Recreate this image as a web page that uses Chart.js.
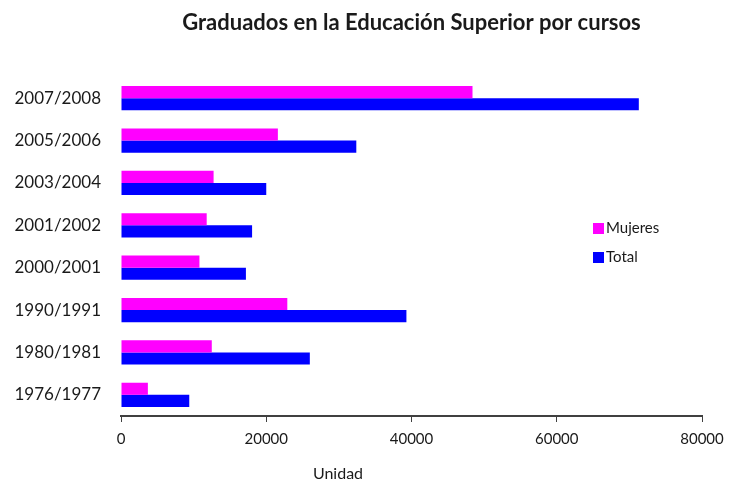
<!DOCTYPE html>
<html lang="es">
<head>
<meta charset="UTF-8">
<title>Graduados en la Educación Superior por cursos</title>
<script src="https://cdn.jsdelivr.net/npm/chart.js@4.4.0/dist/chart.umd.min.js"></script>
<style>
    body { margin: 0; background: #fff; }
</style>
</head>
<body>
<canvas id="myChart" width="729" height="481"></canvas>
<script>
    // datos (de arriba abajo)
    var cursos = ['2007/2008', '2005/2006', '2003/2004', '2001/2002', '2000/2001', '1990/1991', '1980/1981', '1976/1977'];
    var mujeres = [48400, 21600, 12750, 11800, 10800, 22900, 12500, 3700];
    var total = [71300, 32400, 20000, 18050, 17200, 39300, 26000, 9400];
    var ticksX = [0, 20000, 40000, 60000, 80000];
    var titulo = 'Graduados en la Educación Superior por cursos';

    var fuente = "Lato, 'Open Sans', sans-serif";

    // título centrado sobre el área, leyenda dentro del área y título del eje "Unidad"
    var extras = {
        id: 'extras',
        afterDraw: function (chart) {
            var ctx = chart.ctx;
            var area = chart.chartArea;
            ctx.save();
            ctx.fillStyle = '#1a1a1a';
            ctx.textBaseline = 'middle';
            ctx.textAlign = 'center';
            ctx.font = 'bold 22px ' + fuente;
            ctx.fillText(titulo, (area.left + area.right) / 2, 23);

            ctx.textAlign = 'left';
            ctx.font = '15px ' + fuente;
            chart.data.datasets.forEach(function (ds, i) {
                var y = 228 + i * 29;
                ctx.fillStyle = ds.backgroundColor;
                ctx.fillRect(593, y - 5, 11, 11);
                ctx.fillStyle = '#1a1a1a';
                ctx.fillText(ds.label, 606, y);
            });
            ctx.textAlign = 'center';
            ctx.font = '16px ' + fuente;
            ctx.fillText('Unidad', 338, 474);
            ctx.restore();
        }
    };

    var ctx = document.getElementById('myChart').getContext('2d');
    var myChart = new Chart(ctx, {
        type: 'bar',
        data: {
            labels: cursos,
            datasets: [{
                label: 'Mujeres',
                data: mujeres,
                backgroundColor: '#ff00ff'
            }, {
                label: 'Total',
                data: total,
                backgroundColor: '#0000ff'
            }]
        },
        options: {
            responsive: false,
            animation: false,
            indexAxis: 'y',
            layout: { padding: { left: 0, right: 27, top: 77, bottom: 0 } },
            categoryPercentage: 0.57,
            barPercentage: 1.0,
            plugins: {
                legend: { display: false },
                tooltip: { enabled: false },
                title: { display: false }
            },
            scales: {
                x: {
                    min: 0,
                    max: 80000,
                    afterBuildTicks: function (scale) {
                        scale.ticks = ticksX.map(function (v) { return { value: v }; });
                    },
                    afterFit: function (scale) {
                        scale.height = 65;
                        scale.paddingLeft = 0;
                        scale.paddingRight = 0;
                    },
                    grid: { display: true, drawOnChartArea: false, drawTicks: true, tickLength: 6, color: '#404040' },
                    border: { display: true, color: '#404040', width: 2 },
                    ticks: {
                        padding: 8,
                        color: '#1a1a1a',
                        font: { family: fuente, size: 15 },
                        callback: function (v) { return String(v); }
                    }
                },
                y: {
                    afterFit: function (scale) {
                        scale.width = 121;
                        scale.paddingTop = 0;
                        scale.paddingBottom = 0;
                    },
                    grid: { display: false },
                    border: { display: false },
                    ticks: {
                        padding: 12,
                        color: '#1a1a1a',
                        font: { family: fuente, size: 17 }
                    }
                }
            }
        },
        plugins: [extras]
    });
</script>
</body>
</html>
